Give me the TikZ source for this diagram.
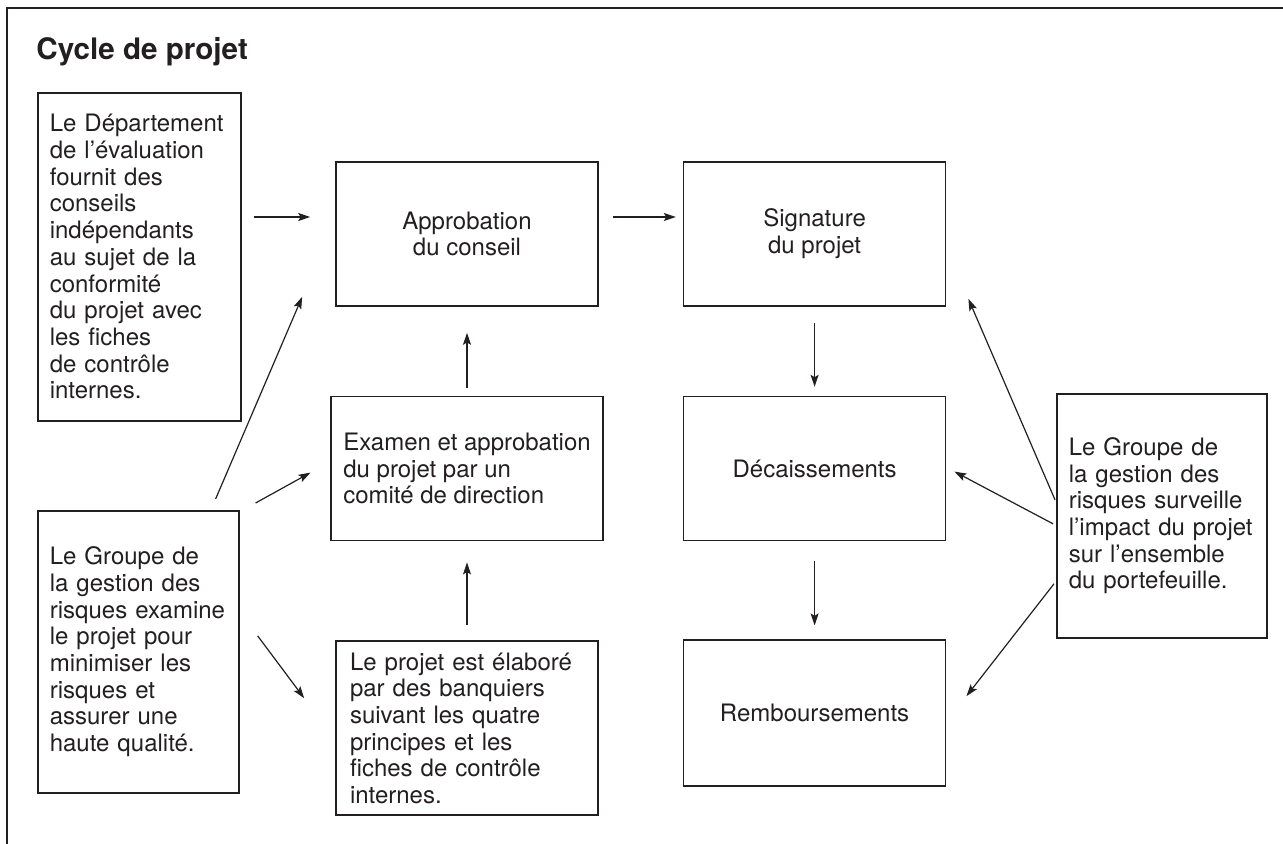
\documentclass[tikz,border=0pt]{standalone}
\usepackage{fontspec}
\setmainfont{TeX Gyre Heros}
\usepackage{tikz}
\usetikzlibrary{arrows.meta,positioning}
\definecolor{ink}{HTML}{231F20}
\tikzstyle{block} = [rectangle, draw=ink, line width=0.8pt, text=ink, inner sep=0pt, inner xsep=6pt,
    font=\fontsize{12}{13.35}\selectfont]
\tikzstyle{note} = [block, align=left]
\tikzstyle{stage} = [block, align=center, minimum width=131pt, minimum height=72pt]
\tikzstyle{line} = [draw=ink, line width=0.6pt, -{Stealth[length=6pt,width=4pt,inset=1.2pt]}]
\tikzstyle{frame} = [draw=ink, line width=0.9pt]

\begin{document}
\begin{tikzpicture}[x=0.5pt, y=-0.5pt]
    \useasboundingbox (0,0) rectangle (1283,844);
    % Frame and title
    \draw [frame] (7,844) -- (7,8) -- (1283,8);
    \node [anchor=base west, inner sep=0pt, text=ink, font=\fontsize{14.8}{17}\selectfont\bfseries] (title) at (36,60) {Cycle de projet};
    % Place nodes
    \node [note, text width=89.5pt, minimum height=164pt, anchor=north west] (dept) at (37,92)
        {Le Département\\de l’évaluation\\fournit des\\conseils\\indépendants\\au sujet de la\\conformité\\du projet avec\\les fiches\\de contrôle\\internes.};
    \node [note, text width=88.5pt, minimum height=141pt, anchor=north west] (riskin) at (37,510)
        {Le Groupe de\\la gestion des\\risques examine\\le projet pour\\minimiser les\\risques et\\assurer une\\haute qualité.};
    \node [stage] (board) at (467,234) {Approbation\\du conseil};
    \node [note, below=44.5pt of board, minimum width=131pt, minimum height=72pt] (review)
        {Examen et approbation\\du projet par un\\comité de direction};
    \node [note, below=49.5pt of review, inner xsep=7pt, text width=117pt, minimum height=87pt] (prep)
        {Le projet est élaboré\\par des banquiers\\suivant les quatre\\principes et les\\fiches de contrôle\\internes.};
    \node [stage, right=42pt of board] (sign) {Signature\\du projet};
    \node [stage, below=44.5pt of sign] (disb) {Décaissements};
    \node [stage, below=49pt of disb, minimum height=73pt] (repay) {Remboursements};
    \node [note, text width=93pt, minimum height=122pt, anchor=north west] (riskout) at (1056,393)
        {Le Groupe de\\la gestion des\\risques surveille\\l’impact du projet\\sur l’ensemble\\du portefeuille.};
    % Draw edges
    \path [line, shorten <=6pt, shorten >=12.5pt] ([yshift=8.5pt]dept.east |- board.west) -- ([yshift=8.5pt]board.west);
    \path [line, shorten <=7pt, shorten >=3.5pt] ([yshift=8.5pt]board.east) -- ([yshift=8.5pt]sign.west);
    \path [line, shorten <=8pt, shorten >=4.5pt] (sign) -- (disb);
    \path [line, shorten <=10pt, shorten >=7pt] (disb) -- (repay);
    \path [line, shorten <=4pt, shorten >=13pt] (review) -- (board);
    \path [line, shorten <=7.5pt, shorten >=10.5pt] (prep) -- (review);
    \path [line] ([shift={(-12pt,5.5pt)}]riskin.north east) -- ([shift={(-16.5pt,5pt)}]board.south west);
    \path [line] ([shift={(8pt,3.5pt)}]riskin.north east) -- ([shift={(-10pt,-2pt)}]review.west);
    \path [line] ([shift={(9pt,8pt)}]riskin.east) -- ([shift={(-15.5pt,15pt)}]prep.west);
    \path [line] ([shift={(-0.5pt,8pt)}]riskout.west) -- ([shift={(11pt,4pt)}]sign.south east);
    \path [line] ([shift={(-1.5pt,-4pt)}]riskout.west) -- ([shift={(4pt,-1.5pt)}]disb.east);
    \path [line] ([shift={(-1pt,-34pt)}]riskout.west) -- ([shift={(10pt,8.5pt)}]repay.east);
\end{tikzpicture}
\end{document}
